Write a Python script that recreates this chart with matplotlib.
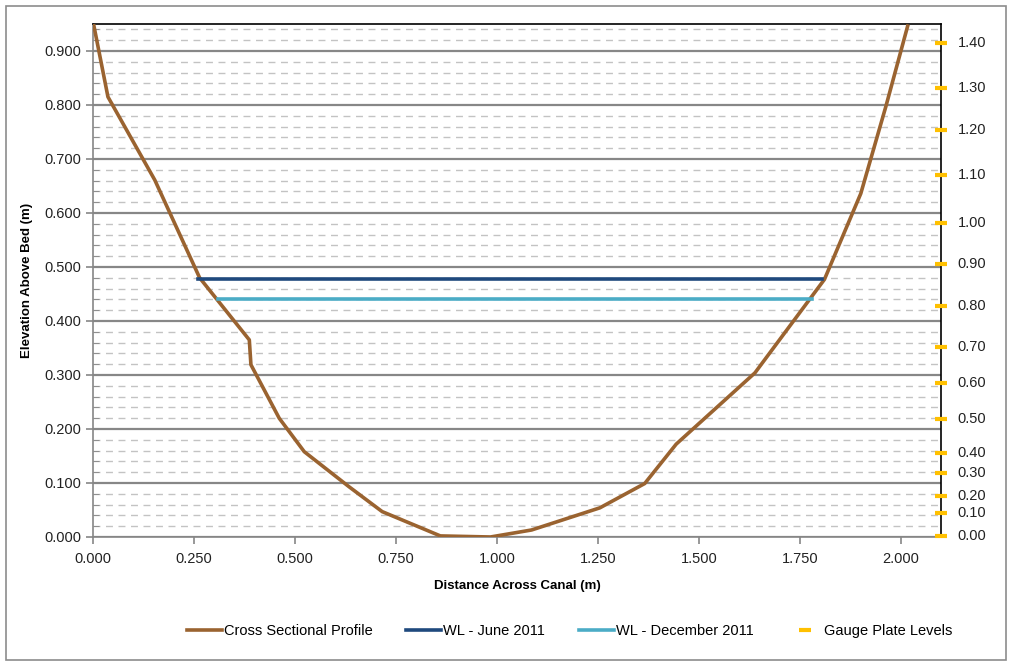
import numpy as np
import matplotlib
matplotlib.use("Agg")
import matplotlib.pyplot as plt
from matplotlib.patches import Rectangle
from matplotlib.ticker import MultipleLocator, FormatStrFormatter

plt.rcParams['font.family'] = ['Liberation Sans', 'DejaVu Sans']

# cross section profile (distance across, elevation above bed)
profile_x = [0.0, 0.037, 0.153, 0.264, 0.387, 0.391, 0.461, 0.523, 0.634, 0.716,
             0.860, 0.984, 1.086, 1.255, 1.366, 1.444, 1.639, 1.811, 1.901, 1.963, 2.017]
profile_y = [0.955, 0.815, 0.661, 0.480, 0.365, 0.319, 0.220, 0.158, 0.093, 0.047,
             0.002, 0.000, 0.013, 0.054, 0.099, 0.172, 0.304, 0.477, 0.636, 0.797, 0.946]

# water levels
wl_june_x = [0.26, 1.805]
wl_june_y = [0.478, 0.478]
wl_dec_x = [0.309, 1.78]
wl_dec_y = [0.441, 0.441]

# gauge plate levels (elevation above bed) and their labels
gauge_y = [0.002, 0.045, 0.076, 0.118, 0.156, 0.218, 0.285, 0.351, 0.428, 0.506,
           0.581, 0.671, 0.754, 0.832, 0.915]
gauge_labels = ['0.00', '0.10', '0.20', '0.30', '0.40', '0.50', '0.60', '0.70', '0.80',
                '0.90', '1.00', '1.10', '1.20', '1.30', '1.40']
gauge_x = [2.1] * len(gauge_y)

fig = plt.figure(figsize=(10.12, 6.66), dpi=100)
fig.patches.append(Rectangle((0.006, 0.009), 0.988, 0.982, transform=fig.transFigure,
                             fill=False, edgecolor='#8c8c8c', linewidth=1.2))
ax = fig.add_axes([0.0919, 0.1937, 0.8381, 0.7703])

ax.set_xlim(0, 2.1)
ax.set_ylim(0, 0.95)

ax.yaxis.set_major_locator(MultipleLocator(0.1))
ax.yaxis.set_minor_locator(MultipleLocator(0.02))
ax.xaxis.set_major_locator(MultipleLocator(0.25))
ax.xaxis.set_major_formatter(FormatStrFormatter('%.3f'))
ax.yaxis.set_major_formatter(FormatStrFormatter('%.3f'))

ax.grid(axis='y', which='major', color='#878787', linewidth=1.6, zorder=0)
ax.grid(axis='y', which='minor', color='#c3c3c3', linewidth=1.0, linestyle=(0, (5, 4)), zorder=0)
ax.set_axisbelow(True)

ax.plot(profile_x, profile_y, color='#9a6330', linewidth=2.6, label='Cross Sectional Profile', zorder=3)
ax.plot(wl_june_x, wl_june_y, color='#1f497d', linewidth=2.6, label='WL - June 2011', zorder=3)
ax.plot(wl_dec_x, wl_dec_y, color='#4bacc6', linewidth=2.6, label='WL - December 2011', zorder=3)
ax.plot(gauge_x, gauge_y, linestyle='none', marker='_', markersize=9, markeredgewidth=3,
        markeredgecolor='#ffc000', label='Gauge Plate Levels', clip_on=False, zorder=4)

for gy, gl in zip(gauge_y, gauge_labels):
    ax.annotate(gl, (2.1, gy), xytext=(12, 0), textcoords='offset points',
                va='center', ha='left', fontsize=10.5, color='#222222', annotation_clip=False)

for side in ['top', 'right']:
    ax.spines[side].set_color('black')
    ax.spines[side].set_linewidth(1.2)
for side in ['left', 'bottom']:
    ax.spines[side].set_color('#868686')
    ax.spines[side].set_linewidth(1.2)

ax.tick_params(axis='both', which='major', labelsize=10.5, colors='#868686', labelcolor='#222222',
               length=5, width=1.2)
ax.tick_params(axis='y', which='minor', direction='in', length=4, colors='#868686')
ax.tick_params(axis='x', pad=6)

ax.set_xlabel('Distance Across Canal (m)', fontsize=9.5, fontweight='bold', labelpad=10)
ax.set_ylabel('Elevation Above Bed (m)', fontsize=9.5, fontweight='bold', labelpad=8)

fig.legend(loc='center', bbox_to_anchor=(0.563, 0.053), ncol=4, frameon=False, fontsize=10.5,
           handlelength=2.4, handletextpad=0.15, columnspacing=2.3)

fig.savefig('out.png', dpi=100)
